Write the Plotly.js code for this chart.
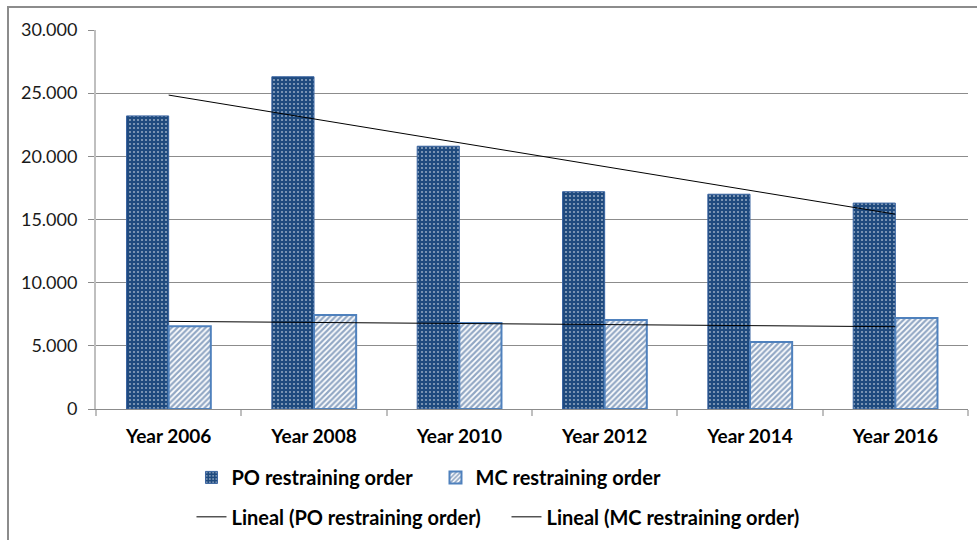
<!DOCTYPE html>
<html>
<head>
<meta charset="utf-8">
<script src="https://cdn.plot.ly/plotly-3.0.1.min.js"></script>
<style>
  html, body { margin: 0; padding: 0; background: #fff; }
  #wrap { position: relative; width: 977px; height: 540px; }
  #chart { width: 977px; height: 540px; }
  #frame { position: absolute; left: 7px; top: 6px; width: 980px; height: 545px;
           border-left: 2px solid #8c8c8c; border-top: 2px solid #8c8c8c; pointer-events: none; }
</style>
</head>
<body>
<div id="wrap">
  <div id="chart"></div>
  <div id="frame"></div>
</div>
<script>
const categories = ["Year 2006", "Year 2008", "Year 2010", "Year 2012", "Year 2014", "Year 2016"];
const poValues = [23200, 26300, 20800, 17200, 17000, 16300];
const mcValues = [6550, 7450, 6800, 7050, 5300, 7200];
const seriesNames = ["PO restraining order", "MC restraining order"];
const trendNames = ["Lineal (PO restraining order)", "Lineal (MC restraining order)"];
const yTicks = [0, 5000, 10000, 15000, 20000, 25000, 30000];

// Linear trendline (least squares over category index), as the spreadsheet does
function linearTrend(vals) {
  const n = vals.length;
  const xs = vals.map((_, i) => i + 1);
  const mx = xs.reduce((a, b) => a + b, 0) / n;
  const my = vals.reduce((a, b) => a + b, 0) / n;
  let sxy = 0, sxx = 0;
  for (let i = 0; i < n; i++) { sxy += (xs[i] - mx) * (vals[i] - my); sxx += (xs[i] - mx) ** 2; }
  const b = sxy / sxx, a = my - b * mx;
  return xs.map(x => a + b * x);
}

const FONT = "Lato, 'Open Sans', sans-serif";

const traces = [
  {
    type: "bar", name: seriesNames[0], x: categories, y: poValues,
    marker: {
      color: "#1f4a7e",
      line: { color: "#3a64a0", width: 1 },
      pattern: { shape: ".", fgcolor: "#ffffff", bgcolor: "#1f4a7e", size: 4, solidity: 0.22, fillmode: "overlay" }
    },
    legend: "legend", hoverinfo: "y"
  },
  {
    type: "bar", name: seriesNames[1], x: categories, y: mcValues,
    marker: {
      color: "#ffffff",
      line: { color: "#4f81bd", width: 2 },
      pattern: { shape: "/", fgcolor: "#24508a", bgcolor: "#ffffff", size: 4, solidity: 0.55, fillmode: "overlay" }
    },
    legend: "legend", hoverinfo: "y"
  },
  {
    type: "scatter", mode: "lines", name: trendNames[0], x: categories, y: linearTrend(poValues),
    line: { color: "#000000", width: 1 }, legend: "legend2"
  },
  {
    type: "scatter", mode: "lines", name: trendNames[1], x: categories, y: linearTrend(mcValues),
    line: { color: "#000000", width: 1 }, legend: "legend2"
  }
];

const layout = {
  width: 977, height: 540,
  margin: { l: 96, r: 9, t: 30, b: 131 },
  paper_bgcolor: "#ffffff", plot_bgcolor: "#ffffff",
  separators: ",.",
  barmode: "group", bargap: 0.42, bargroupgap: 0,
  font: { family: FONT, color: "#000000", size: 17 },
  xaxis: {
    type: "category",
    showline: true, linecolor: "#8c8c8c", linewidth: 1,
    ticks: "outside", tickson: "boundaries", ticklen: 6, tickcolor: "#bfbfbf", tickwidth: 2,
    ticklabelstandoff: 10,
    tickfont: { family: FONT, size: 19, color: "#000000", weight: "bold" },
    showgrid: false, zeroline: false, fixedrange: true
  },
  yaxis: {
    range: [0, 30000], tickvals: yTicks, tickformat: ",",
    showline: true, linecolor: "#bfbfbf", linewidth: 2,
    ticks: "outside", ticklen: 6, tickcolor: "#8c8c8c", tickwidth: 1,
    showgrid: true, gridcolor: "#8c8c8c", gridwidth: 1,
    zeroline: false, ticklabelstandoff: 7,
    tickfont: { family: FONT, size: 18, color: "#1a1a1a" }, fixedrange: true
  },
  showlegend: true,
  legend: {
    orientation: "h", xref: "container", yref: "container", x: 0.196, y: 0.152,
    xanchor: "left", yanchor: "top", bgcolor: "rgba(0,0,0,0)",
    font: { family: FONT, size: 20, color: "#000000", weight: "bold" },
    itemwidth: 30, traceorder: "normal", entrywidthmode: "pixels", entrywidth: 199
  },
  legend2: {
    orientation: "h", xref: "container", yref: "container", x: 0.196, y: 0.079,
    xanchor: "left", yanchor: "top", bgcolor: "rgba(0,0,0,0)",
    font: { family: FONT, size: 20, color: "#000000", weight: "bold" },
    itemwidth: 30, traceorder: "normal", entrywidthmode: "pixels", entrywidth: 270
  }
};

Plotly.newPlot("chart", traces, layout, { displayModeBar: false, staticPlot: true });
</script>
</body>
</html>
